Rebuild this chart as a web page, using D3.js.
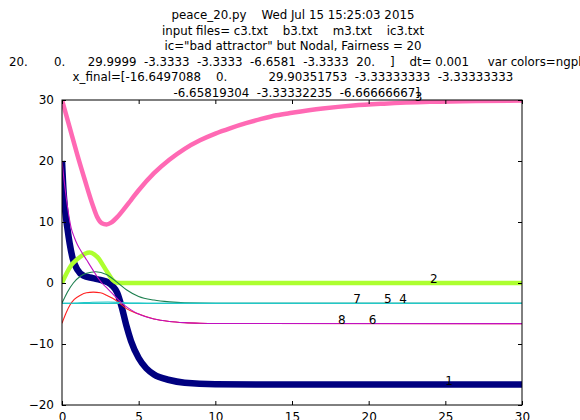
<!DOCTYPE html>
<html lang="en">
<head>
<meta charset="UTF-8">
<title>peace_20.py</title>
<script src="https://cdn.jsdelivr.net/npm/d3@7"></script>
<style>
    body { margin: 0; background: #fff; }
    text { font-family: "DejaVu Sans", sans-serif; fill: #000; white-space: pre; }
    .title { font-size: 11.8px; }
    .curve-label { font-size: 12px; }
</style>
</head>
<body>
<svg width="580" height="420"></svg>
<script>
    // title lines, as printed by the script
    var titleLines = [
        "peace_20.py    Wed Jul 15 15:25:03 2015",
        "input files= c3.txt    b3.txt    m3.txt    ic3.txt",
        "ic=\"bad attractor\" but Nodal, Fairness = 20",
        "20.       0.      29.9999  -3.3333  -3.3333  -6.6581  -3.3333  20.    ]    dt= 0.001     var colors=ngpbcrmm",
        "x_final=[-16.6497088    0.           29.90351753  -3.33333333  -3.33333333",
        "  -6.65819304  -3.33332235  -6.66666667]"
    ];

    var xTicks = [0, 5, 10, 15, 20, 25, 30];
    var yTicks = [-20, -10, 0, 10, 20, 30];

    // time courses [t, value]
    var x1 = [[0, 20], [0.1, 15], [0.2, 12], [0.35, 9], [0.5, 6.5], [0.7, 4], [1.0, 2.2], [1.4, 1.2],
              [2, 0.8], [2.5, 0.5], [3, 0.1], [3.3, -0.5], [3.6, -1.6], [3.9, -4], [4.2, -7],
              [4.5, -9.5], [5, -12.3], [5.5, -14], [6, -15], [7, -15.9], [8, -16.35], [10, -16.6],
              [15, -16.64], [30, -16.65]];
    var x2 = [[0, 0], [0.3, 1.6], [0.6, 2.9], [0.9, 3.7], [1.2, 4.3], [1.5, 4.8], [1.8, 5.0],
              [2.1, 4.7], [2.4, 4.0], [2.7, 2.8], [3.0, 1.6], [3.3, 0.5], [3.6, 0.05], [4, 0], [30, 0]];
    var x3 = [[0, 30], [0.5, 25.5], [1, 21], [1.5, 16.8], [2, 12.8], [2.3, 10.8], [2.6, 9.8],
              [2.9, 9.6], [3.2, 9.9], [3.6, 10.8], [4, 12], [4.5, 13.6], [5, 15.2], [6, 18],
              [7, 20.2], [8, 22], [9, 23.4], [10, 24.5], [11, 25.4], [12, 26.2], [13, 26.9],
              [14, 27.5], [15, 27.9], [17, 28.6], [19, 29.1], [21, 29.4], [24, 29.7], [27, 29.85], [30, 29.9]];
    var x4 = [[0, -3.3], [0.35, -1.5], [0.74, 0], [1.2, 1.1], [1.6, 1.6], [2.2, 1.85], [2.9, 1.4],
              [3.6, 0.1], [4.2, -1.1], [5, -2.2], [6, -2.8], [7, -3.1], [8, -3.25], [10, -3.32], [30, -3.3333]];
    var x5 = [[0, -3.3333], [10, -3.3333], [30, -3.3333]];
    var x6 = [[0, -6.6], [0.25, -5], [0.52, -3.6], [0.8, -2.7], [1.2, -2.0], [1.6, -1.6], [2.04, -1.5],
              [2.5, -1.6], [2.9, -2.0], [3.3, -2.5], [3.6, -3.0], [4.2, -4.2], [5, -5.1], [6, -5.9],
              [7, -6.3], [8, -6.5], [9, -6.6], [10, -6.64], [30, -6.658]];
    var x7 = [[0, -3.33], [1, -3.27], [2, -3.15], [3, -3.12], [4, -3.22], [5, -3.3], [6, -3.33], [30, -3.3333]];
    var x8 = [[0, 20], [0.2, 15.5], [0.4, 11.8], [0.6, 9], [0.8, 7.5], [1.0, 6.3], [1.3, 5], [1.6, 3.8],
              [2, 2.2], [2.6, 0], [3, -1], [3.5, -2.3], [4, -3.5], [4.5, -4.4], [5, -5.1], [6, -5.9],
              [7, -6.3], [8, -6.5], [9, -6.6], [10, -6.64], [30, -6.6667]];

    var series = [x1, x2, x3, x4, x5, x6, x7, x8];
    var seriesLabels = ["1", "2", "3", "4", "5", "6", "7", "8"];
    var labelT = [25, 24, 23, 22, 21, 20, 19, 18];

    // line styles
    var colors = ["#000080", "#adff2f", "#ff69b4", "#1d7f4f", "#20c4c4", "#ff2020", "#22c8c8", "#c010c0"];
    var widths = [6.5, 4.5, 4.5, 1.1, 1.1, 1.1, 1.1, 1.1];

    var svg = d3.select("svg"),
        margin = {top: 100, right: 58, bottom: 15, left: 62},
        width = 580 - margin.left - margin.right,
        height = 420 - margin.top - margin.bottom;

    var x = d3.scaleLinear().domain([0, 30]).range([margin.left, margin.left + width]);
    var y = d3.scaleLinear().domain([-20, 30]).range([margin.top + height, margin.top]);

    // Title
    svg.selectAll(".title")
        .data(titleLines)
        .enter()
        .append("text")
        .attr("class", "title")
        .attr("x", function(d, i) { return i == 3 ? 9 : 293; })
        .attr("y", function(d, i) { return 19 + i * 15.6; })
        .style("text-anchor", function(d, i) { return i == 3 ? "start" : "middle"; })
        .text(function(d) { return d; });

    svg.append("clipPath").attr("id", "plot-clip")
        .append("rect")
        .attr("x", margin.left).attr("y", margin.top)
        .attr("width", width).attr("height", height);

    var line = d3.line()
        .x(function(d) { return x(d[0]); })
        .y(function(d) { return y(d[1]); })
        .curve(d3.curveMonotoneX);

    var g = svg.append("g").attr("clip-path", "url(#plot-clip)");

    g.selectAll("path")
        .data(series)
        .enter()
        .append("path")
        .attr("d", line)
        .attr("fill", "none")
        .attr("stroke", function(d, i) { return colors[i]; })
        .attr("stroke-width", function(d, i) { return widths[i]; })
        .attr("stroke-linejoin", "round");

    // curve labels at the final values
    svg.selectAll(".curve-label")
        .data(series)
        .enter()
        .append("text")
        .attr("class", "curve-label")
        .attr("x", function(d, i) { return x(labelT[i]); })
        .attr("y", function(d) { return y(d[d.length - 1][1]); })
        .text(function(d, i) { return seriesLabels[i]; });

    // axes, matplotlib style ticks inside on all four sides
    var fmt = function(d) { return d < 0 ? "\u2212" + Math.abs(d) : d; };
    svg.append("g")
        .attr("transform", "translate(0," + (margin.top + height) + ")")
        .call(d3.axisBottom(x).tickValues(xTicks).tickSizeInner(-4).tickSizeOuter(0).tickPadding(7).tickFormat(fmt));
    svg.append("g")
        .attr("transform", "translate(0," + margin.top + ")")
        .call(d3.axisTop(x).tickValues(xTicks).tickSizeInner(-4).tickSizeOuter(0).tickFormat(""));
    svg.append("g")
        .attr("transform", "translate(" + margin.left + ",0)")
        .call(d3.axisLeft(y).tickValues(yTicks).tickSizeInner(-4).tickSizeOuter(0).tickPadding(8).tickFormat(fmt));
    svg.append("g")
        .attr("transform", "translate(" + (margin.left + width) + ",0)")
        .call(d3.axisRight(y).tickValues(yTicks).tickSizeInner(-4).tickSizeOuter(0).tickFormat(""));

    svg.selectAll(".domain").remove();
    svg.selectAll(".tick line").attr("stroke", "#000");
    svg.selectAll(".tick text")
        .style("font-family", "DejaVu Sans")
        .style("font-size", "12px")
        .attr("fill", "#000");

    svg.append("rect")
        .attr("x", margin.left).attr("y", margin.top)
        .attr("width", width).attr("height", height)
        .attr("fill", "none")
        .attr("stroke", "#000")
        .attr("stroke-width", 1);
</script>
</body>
</html>
